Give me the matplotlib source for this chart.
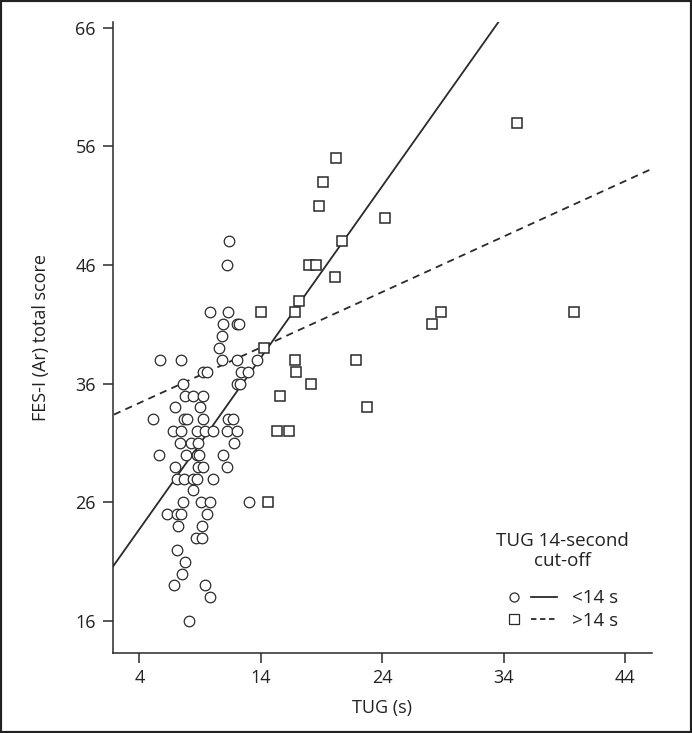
import numpy as np
import matplotlib.pyplot as plt
from matplotlib.lines import Line2D
from matplotlib.legend_handler import HandlerTuple
from matplotlib.patches import Rectangle

plt.rcParams['font.family'] = ['Open Sans', 'DejaVu Sans']

# ---- data ----
# TUG < 14 s (circles)
tug_lo = [11.40, 11.24, 9.81, 11.32, 10.92, 12.01, 12.22, 10.82, 10.55,
          5.69, 7.38, 10.77, 12.06, 13.66, 9.26, 9.54, 12.36, 12.97,
          7.61, 12.06, 12.28, 7.75, 8.39, 9.26, 6.93, 8.99,
          5.14, 7.67, 7.92, 9.26, 11.32, 11.73,
          6.79, 7.46, 8.72, 9.40, 10.08, 11.21, 12.03,
          7.34, 8.25, 8.85, 11.79, 5.61, 7.83, 8.72, 8.90, 10.84,
          6.93, 8.85, 9.26, 11.24, 7.09, 7.67, 8.43, 8.74, 10.03,
          8.37, 7.56, 9.09, 9.84, 13.02, 6.24, 7.12, 7.42, 9.54,
          7.20, 9.13, 8.63, 9.13, 7.05, 7.75, 7.50, 6.85, 9.40, 9.81, 8.11]
fes_lo = [48, 46, 42, 42, 41, 41, 41, 40, 39,
          38, 38, 38, 38, 38, 37, 37, 37, 37,
          36, 36, 36, 35, 35, 35, 34, 34,
          33, 33, 33, 33, 33, 33,
          32, 32, 32, 32, 32, 32, 32,
          31, 31, 31, 31, 30, 30, 30, 30, 30,
          29, 29, 29, 29, 28, 28, 28, 28, 28,
          27, 26, 26, 26, 26, 25, 25, 25, 25,
          24, 24, 23, 23, 22, 21, 20, 19, 19, 18, 16]

# TUG > 14 s (squares)
tug_hi = [35.1, 20.2, 19.1, 18.8, 24.2, 20.7, 18.0, 18.5, 20.1, 17.1,
          14.0, 16.8, 28.8, 39.8, 28.1, 14.25, 16.8, 16.9, 21.8, 18.1,
          15.6, 22.7, 15.35, 16.3, 14.6]
fes_hi = [58, 55, 53, 51, 50, 48, 46, 46, 45, 43,
          42, 42, 42, 42, 41, 39, 38, 37, 38, 36,
          35, 34, 32, 32, 26]

# regression lines (intercept, slope)
fit_lo = (17.97, 1.445)
fit_hi = (32.51, 0.4674)

xticks = [4, 14, 24, 34, 44]
yticks = [16, 26, 36, 46, 56, 66]

# ---- figure ----
fig = plt.figure(figsize=(6.92, 7.33), dpi=100)
ax = fig.add_axes([0.1626, 0.1095, 0.7794, 0.8609])
fig.patches.append(Rectangle((0, 0), 1, 1, transform=fig.transFigure,
                             fill=False, edgecolor='#222222', linewidth=3))

ink = '#2a2a2a'
txt = '#222222'
ax.plot(tug_lo, fes_lo, 'o', ms=7.6, mfc='white', mec=ink, mew=0.9, zorder=3)
ax.plot(tug_hi, fes_hi, 's', ms=7.6, mfc='white', mec=ink, mew=1.1, zorder=3)

xx = np.array([0, 50])
ax.plot(xx, fit_lo[0] + fit_lo[1] * xx, '-', color=ink, lw=1.3, zorder=2)
ax.plot(xx, fit_hi[0] + fit_hi[1] * xx, '--', color=ink, lw=1.3,
        dashes=(4, 3), zorder=2)

ax.set_xlim(1.78, 46.2)
ax.set_ylim(13.33, 66.5)
ax.set_xticks(xticks)
ax.set_yticks(yticks)
for s in ['top', 'right']:
    ax.spines[s].set_visible(False)
for s in ['left', 'bottom']:
    ax.spines[s].set_linewidth(1.1)
    ax.spines[s].set_color(ink)
ax.tick_params(length=7, width=1.1, color=ink, labelsize=13, pad=5,
               labelcolor=txt)
ax.set_xlabel('TUG (s)', fontsize=13, color=txt, labelpad=8)
ax.set_ylabel('FES-I (Ar) total score', fontsize=13, color=txt, labelpad=18)

# legend
ax.text(0.835, 0.161, 'TUG 14-second\ncut-off', transform=ax.transAxes,
        ha='center', va='center', multialignment='center', fontsize=13.5,
        color=txt, linespacing=1.15)
h_lo = (Line2D([], [], marker='o', ls='none', ms=6.5, mfc='white', mec=ink, mew=0.9),
        Line2D([], [], ls='-', color=ink, lw=1.3))
h_hi = (Line2D([], [], marker='s', ls='none', ms=6.5, mfc='white', mec=ink, mew=0.9),
        Line2D([], [], ls='--', color=ink, lw=1.3, dashes=(3, 2)))
leg = ax.legend([h_lo, h_hi], ['<14 s', '>14 s'],
                handler_map={tuple: HandlerTuple(ndivide=None, pad=0.2)},
                frameon=False, fontsize=13.5, loc='lower right',
                bbox_to_anchor=(0.937, 0.036), borderpad=0, borderaxespad=0,
                handlelength=3.0, handletextpad=0.8, labelspacing=0.25)
for t in leg.get_texts():
    t.set_color(txt)

fig.savefig('out.png', dpi=100)
